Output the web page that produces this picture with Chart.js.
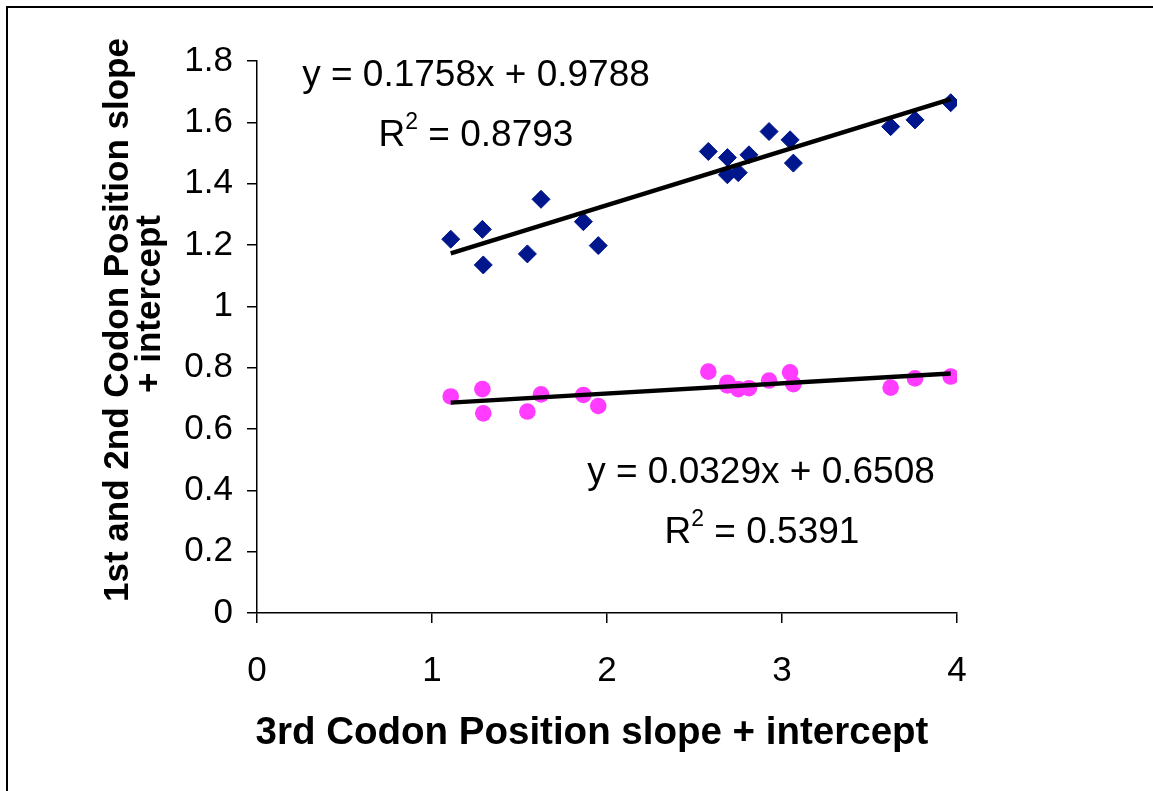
<!DOCTYPE html>
<html lang="en">
<head>
  <meta charset="UTF-8" />
  <title>Codon position slope + intercept</title>
  <script src="https://cdn.jsdelivr.net/npm/chart.js"></script>
  <style>
    body { margin: 0; background: #fff; }
    .frame {
      position: absolute;
      left: 6px; top: 6px;
      width: 1160px; height: 800px;
      border-left: 2px solid #000;
      border-top: 2px solid #000;
    }
    canvas { position: absolute; left: 0; top: 0; }
  </style>
</head>
<body>
  <div class="frame"></div>
  <canvas id="chart" width="1153" height="791"></canvas>
  <script>
    // 3rd codon position (x), shared by both series
    const thirdPos = [1.107, 1.288, 1.293, 1.545, 1.623, 1.865, 1.950, 2.579, 2.688,
                      2.688, 2.750, 2.811, 2.926, 3.046, 3.065, 3.621, 3.760, 3.964];
    // 1st and 2nd codon position values
    const seriesBlue = [1.219, 1.251, 1.135, 1.171, 1.349, 1.276, 1.198, 1.505, 1.485,
                        1.429, 1.436, 1.494, 1.570, 1.543, 1.467, 1.586, 1.608, 1.664];
    const seriesPink = [0.706, 0.730, 0.651, 0.657, 0.713, 0.711, 0.675, 0.787, 0.751,
                        0.742, 0.730, 0.733, 0.758, 0.785, 0.746, 0.735, 0.765, 0.771];
    // trendline end points
    const trendX = [1.107, 3.964];
    const trendBlue = [1.173, 1.676];
    const trendPink = [0.686, 0.781];
    const xTicks = [0, 1, 2, 3, 4];
    const yTicks = [0, 0.2, 0.4, 0.6, 0.8, 1, 1.2, 1.4, 1.6, 1.8];

    const eqBlue = ['y = 0.1758x + 0.9788', '0.8793'];
    const eqPink = ['y = 0.0329x + 0.6508', '0.5391'];
    const xTitle = '3rd Codon Position slope + intercept';
    const yTitle = ['1st and 2nd Codon Position slope', '+ intercept'];

    const FONT = '"Liberation Sans", Arial, sans-serif';
    const pts = ys => thirdPos.map((x, i) => ({ x: x, y: ys[i] }));
    const line = ys => trendX.map((x, i) => ({ x: x, y: ys[i] }));

    function drawR2(ctx, cx, cy, val) {
      ctx.font = '37px ' + FONT;
      const wR = ctx.measureText('R').width;
      const rest = ' = ' + val;
      const wRest = ctx.measureText(rest).width;
      ctx.font = '23px ' + FONT;
      const w2 = ctx.measureText('2').width;
      let x = cx - (wR + w2 + wRest) / 2;
      ctx.textAlign = 'left';
      ctx.font = '37px ' + FONT;
      ctx.fillText('R', x, cy);
      ctx.font = '23px ' + FONT;
      ctx.fillText('2', x + wR, cy - 13);
      ctx.font = '37px ' + FONT;
      ctx.fillText(rest, x + wR + w2, cy);
    }

    const textPlugin = {
      id: 'texts',
      afterDraw(chart) {
        const ctx = chart.ctx;
        ctx.save();
        ctx.fillStyle = '#000';
        ctx.textBaseline = 'middle';
        ctx.textAlign = 'center';
        // equations
        ctx.font = '37px ' + FONT;
        ctx.fillText(eqBlue[0], 476, 76);
        drawR2(ctx, 476, 136, eqBlue[1]);
        ctx.font = '37px ' + FONT;
        ctx.textAlign = 'center';
        ctx.fillText(eqPink[0], 761, 473);
        drawR2(ctx, 762, 533, eqPink[1]);
        // axis titles
        ctx.textAlign = 'center';
        ctx.font = 'bold 38.5px ' + FONT;
        ctx.fillText(xTitle, 592, 733);
        ctx.font = 'bold 35px ' + FONT;
        ctx.save();
        ctx.translate(118, 320);
        ctx.rotate(-Math.PI / 2);
        ctx.fillText(yTitle[0], 0, 0);
        ctx.restore();
        ctx.save();
        ctx.translate(150, 304);
        ctx.rotate(-Math.PI / 2);
        ctx.fillText(yTitle[1], 0, 0);
        ctx.restore();
        ctx.restore();
      }
    };

    new Chart(document.getElementById('chart'), {
      type: 'scatter',
      data: {
        datasets: [
          { type: 'line', data: line(trendBlue), borderColor: '#000', borderWidth: 4.5,
            pointRadius: 0, fill: false, order: 0 },
          { type: 'line', data: line(trendPink), borderColor: '#000', borderWidth: 4.5,
            pointRadius: 0, fill: false, order: 0 },
          { data: pts(seriesBlue), pointStyle: 'rectRot', pointRadius: 9,
            backgroundColor: '#00168c', borderColor: '#00168c', borderWidth: 1, order: 1 },
          { data: pts(seriesPink), pointStyle: 'circle', pointRadius: 8.3,
            backgroundColor: '#ff3cff', borderColor: '#ff3cff', borderWidth: 0, order: 1 }
        ]
      },
      options: {
        responsive: false,
        animation: false,
        layout: { padding: { left: 0, top: 61, right: 196, bottom: 0 } },
        plugins: { legend: { display: false }, tooltip: { enabled: false } },
        scales: {
          x: {
            type: 'linear', min: 0, max: 4,
            afterBuildTicks: s => { s.ticks = xTicks.map(v => ({ value: v })); },
            afterFit: s => { s.height = 178; },
            ticks: { color: '#000', padding: 27, font: { family: FONT, size: 35 } },
            grid: { drawOnChartArea: false, tickLength: 10, color: '#000', lineWidth: 1.5 },
            border: { color: '#000', width: 1.5 }
          },
          y: {
            type: 'linear', min: 0, max: 1.8,
            afterBuildTicks: s => { s.ticks = yTicks.map(v => ({ value: v })); },
            afterFit: s => { s.width = 257; },
            ticks: { color: '#000', padding: 14, font: { family: FONT, size: 35 },
                     callback: v => String(+v.toFixed(1)) },
            grid: { drawOnChartArea: false, tickLength: 10, color: '#000', lineWidth: 1.5 },
            border: { color: '#000', width: 1.5 }
          }
        }
      },
      plugins: [textPlugin]
    });
  </script>
</body>
</html>
